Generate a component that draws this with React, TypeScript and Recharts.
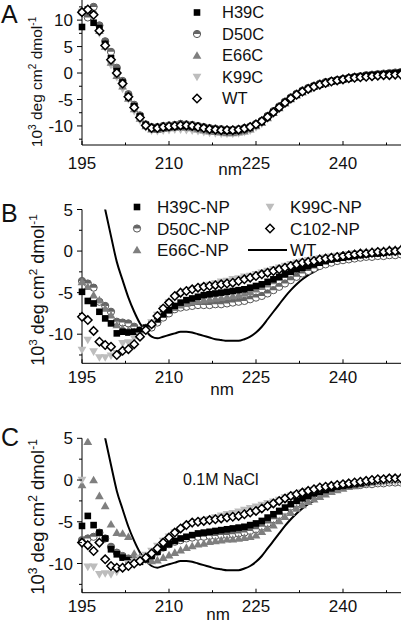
import React from 'react';
import { ComposedChart, Line, XAxis, YAxis } from 'recharts';

const FONT = '"Liberation Sans", Arial, Helvetica, sans-serif';

// wavelength (nm), one point per nm
const wavelengths = [
  195, 196, 197, 198, 199, 200, 201, 202, 203, 204,
  205, 206, 207, 208, 209, 210, 211, 212, 213, 214,
  215, 216, 217, 218, 219, 220, 221, 222, 223, 224,
  225, 226, 227, 228, 229, 230, 231, 232, 233, 234,
  235, 236, 237, 238, 239, 240, 241, 242, 243, 244,
  245, 246, 247, 248, 249, 250,
];

const xTicks = [195, 202.5, 210, 217.5, 225, 232.5, 240, 247.5];
const yTicksA = [-12.5, -10, -7.5, -5, -2.5, 0, 2.5, 5, 7.5, 10, 12.5];
const yTicksBC = [-12.5, -10, -7.5, -5, -2.5, 0, 2.5, 5];

// panel A - free proteins
const aH39 = [
  8.7, 12, 9.5, 8.5, 5.5, 2.8, 0.4, -1.8, -4.5, -6.3,
  -8.2, -9.8, -10.4, -10.4, -10.3, -10.2, -10.1, -10.0, -10.0, -10.1,
  -10.2, -10.4, -10.6, -10.7, -10.8, -10.9, -10.9, -10.8, -10.6, -10.3,
  -9.8, -9.2, -8.3, -7.4, -6.5, -5.6, -4.8, -4.1, -3.5, -3.0,
  -2.5, -2.2, -1.9, -1.6, -1.4, -1.2, -1.0, -0.8, -0.7, -0.5,
  -0.4, -0.3, -0.2, -0.1, 0, 0.1,
];
const aD50 = [
  11.5, 10.5, 12.5, 9, 6, 4, 1, -1.5, -4, -6,
  -8, -9.7, -10.2, -10.2, -10.0, -9.9, -9.8, -9.6, -9.7, -9.8,
  -10.0, -10.2, -10.4, -10.5, -10.6, -10.7, -10.7, -10.6, -10.4, -10.1,
  -9.6, -9.0, -8.1, -7.2, -6.3, -5.4, -4.6, -3.9, -3.3, -2.8,
  -2.4, -2.0, -1.7, -1.5, -1.3, -1.1, -0.9, -0.7, -0.6, -0.4,
  -0.3, -0.2, -0.1, 0, 0.1, 0.2,
];
const aE66 = [
  11.8, 11.5, 11.8, 8, 5, 2, -0.5, -2.5, -4.8, -6.8,
  -8.6, -10.0, -10.6, -10.7, -10.5, -10.4, -10.3, -10.2, -10.3, -10.4,
  -10.6, -10.8, -11.0, -11.1, -11.2, -11.3, -11.3, -11.2, -11.0, -10.6,
  -10.0, -9.4, -8.5, -7.5, -6.6, -5.7, -4.9, -4.2, -3.6, -3.0,
  -2.6, -2.2, -1.9, -1.6, -1.4, -1.2, -1.0, -0.8, -0.6, -0.5,
  -0.4, -0.3, -0.2, -0.1, 0, 0,
];
const aK99 = [
  11.5, 11.2, 12, 7.5, 4.8, 1.5, -0.8, -3, -5, -7.2,
  -9, -10.3, -10.9, -11.0, -10.9, -10.8, -10.7, -10.7, -10.8, -10.9,
  -11.0, -11.2, -11.3, -11.4, -11.5, -11.5, -11.5, -11.4, -11.2, -10.9,
  -10.3, -9.6, -8.7, -7.7, -6.8, -5.8, -5.0, -4.3, -3.7, -3.1,
  -2.7, -2.3, -2.0, -1.7, -1.5, -1.3, -1.1, -0.9, -0.7, -0.6,
  -0.5, -0.4, -0.3, -0.2, -0.1, 0,
];
const aWT = [
  11.5, 12, 11, 8, 5.2, 2.5, 0, -2, -4.5, -6.5,
  -8.4, -9.9, -10.4, -10.4, -10.2, -10.1, -10.0, -9.9, -9.9, -10.0,
  -10.2, -10.4, -10.6, -10.7, -10.8, -10.8, -10.8, -10.7, -10.5, -10.2,
  -9.7, -9.1, -8.3, -7.4, -6.5, -5.6, -4.8, -4.1, -3.5, -3.0,
  -2.6, -2.2, -1.9, -1.6, -1.4, -1.2, -1.0, -0.9, -0.8, -0.7,
  -0.6, -0.5, -0.4, -0.4, -0.3, -0.3,
];

// WT reference line used in panels B and C
const wtLine = [
  9, 12, 12, 8.3, 5, 1.8, -1.3, -3.5, -5.6, -7.3,
  -8.7, -9.6, -10.3, -10.5, -10.3, -10.1, -9.9, -9.7, -9.7, -9.8,
  -10.0, -10.2, -10.4, -10.6, -10.7, -10.8, -10.8, -10.8, -10.6, -10.3,
  -9.8, -9.1, -8.2, -7.3, -6.4, -5.5, -4.7, -4.0, -3.4, -2.9,
  -2.5, -2.1, -1.8, -1.5, -1.3, -1.1, -0.9, -0.8, -0.6, -0.5,
  -0.4, -0.3, -0.2, -0.2, -0.1, -0.1,
];

// panel B - nanoparticle conjugates
const bH39 = [
  -4.9, -6.0, -6.3, -7.3, -8.1, -8.7, -9.9, -9.7, -9.8, -9.7,
  -9.5, -9.2, -8.7, -8.2, -7.6, -7.1, -6.6, -6.2, -5.9, -5.7,
  -5.5, -5.3, -5.2, -5.1, -5.0, -4.9, -4.8, -4.7, -4.6, -4.4,
  -4.2, -4.0, -3.7, -3.4, -3.1, -2.8, -2.5, -2.2, -2.0, -1.8,
  -1.6, -1.4, -1.2, -1.0, -0.9, -0.8, -0.7, -0.6, -0.5, -0.4,
  -0.3, -0.3, -0.2, -0.1, 0, 0,
];
const bD50 = [
  -3.6, -3.9, -4.4, -6.1, -6.6, -7.3, -8.5, -8.6, -8.7, -9.1,
  -9.6, -9.5, -9.2, -8.6, -8.0, -7.5, -7.0, -6.8, -6.7, -6.6,
  -6.5, -6.5, -6.5, -6.4, -6.4, -6.3, -6.2, -6.1, -6.0, -5.8,
  -5.6, -5.4, -5.1, -4.7, -4.3, -3.9, -3.5, -3.1, -2.7, -2.4,
  -2.1, -1.8, -1.6, -1.4, -1.2, -1.1, -1.0, -0.9, -0.8, -0.7,
  -0.7, -0.6, -0.6, -0.5, -0.5, -0.4,
];
const bE66 = [
  -3.7, -4.3, -5.3, -5.9, -6.9, -7.7, -8.9, -9.3, -9.5, -9.7,
  -9.5, -9.2, -8.8, -8.2, -7.6, -7.1, -6.8, -6.5, -6.3, -6.1,
  -6.0, -5.9, -5.8, -5.7, -5.6, -5.5, -5.4, -5.3, -5.1, -4.9,
  -4.6, -4.3, -4.0, -3.6, -3.2, -2.8, -2.4, -2.1, -1.8, -1.5,
  -1.3, -1.1, -0.9, -0.7, -0.6, -0.5, -0.4, -0.3, -0.2, -0.1,
  0, 0, 0.1, 0.2, 0.2, 0.3,
];
const bK99 = [
  -11.9, -10.7, -12.1, -12.8, -12.8, -12.6, -12.3, -11.1, -11.0, -10.5,
  -10.2, -9.5, -8.6, -7.7, -6.9, -6.2, -5.6, -5.2, -4.9, -4.7,
  -4.5, -4.3, -4.1, -3.9, -3.7, -3.6, -3.4, -3.3, -3.1, -3.0,
  -2.8, -2.6, -2.4, -2.2, -2.0, -1.8, -1.6, -1.4, -1.3, -1.1,
  -1.0, -0.9, -0.8, -0.7, -0.6, -0.5, -0.4, -0.3, -0.3, -0.2,
  -0.2, -0.1, -0.1, 0, 0, 0.1,
];
const bC102 = [
  -7.9, -8.3, -9.6, -10.9, -11.3, -11.5, -12.5, -12.0, -11.8, -11.2,
  -10.3, -9.5, -8.8, -7.8, -6.9, -6.2, -5.4, -5.0, -4.8, -4.6,
  -4.4, -4.3, -4.2, -4.1, -4.0, -3.9, -3.8, -3.6, -3.4, -3.2,
  -3.0, -2.8, -2.6, -2.4, -2.2, -2.0, -1.8, -1.6, -1.4, -1.3,
  -1.2, -1.0, -0.9, -0.8, -0.7, -0.6, -0.5, -0.4, -0.3, -0.3,
  -0.2, -0.1, -0.1, 0, 0, 0.1,
];

// panel C - conjugates in 0.1M NaCl
const cH39 = [
  -5.5, -4.3, -5.4, -6.3, -7.0, -8.3, -8.9, -9.3, -9.6, -9.8,
  -9.8, -9.5, -9.1, -8.6, -8.1, -7.7, -7.3, -7.0, -6.8, -6.6,
  -6.4, -6.3, -6.2, -6.1, -6.0, -5.9, -5.8, -5.7, -5.6, -5.4,
  -5.2, -4.9, -4.5, -4.1, -3.7, -3.3, -2.9, -2.5, -2.2, -1.9,
  -1.6, -1.4, -1.2, -1.0, -0.8, -0.7, -0.6, -0.5, -0.4, -0.3,
  -0.2, -0.1, 0, 0, 0.1, 0.1,
];
const cD50 = [
  -7.2, -7.0, -6.8, -6.3, -7.0, -8.0, -8.7, -9.1, -9.4, -9.6,
  -9.7, -9.5, -9.1, -8.6, -8.1, -7.7, -7.4, -7.2, -7.0, -6.9,
  -6.8, -6.8, -6.7, -6.7, -6.6, -6.6, -6.5, -6.4, -6.3, -6.1,
  -5.9, -5.6, -5.2, -4.7, -4.2, -3.7, -3.2, -2.8, -2.4, -2.0,
  -1.7, -1.5, -1.3, -1.1, -0.9, -0.8, -0.7, -0.6, -0.6, -0.5,
  -0.5, -0.4, -0.4, -0.3, -0.3, -0.3,
];
const cE66 = [
  -0.6, 4.6, 0, -1.9, -3.1, -5.3, -6.3, -6.4, -6.8, -8.8,
  -9.2, -9.5, -9.7, -9.6, -9.3, -9.0, -8.7, -8.4, -8.1, -7.9,
  -7.7, -7.6, -7.4, -7.3, -7.2, -7.1, -7.1, -7.0, -6.9, -6.8,
  -6.6, -6.2, -5.8, -5.4, -4.9, -4.4, -3.9, -3.4, -3.0, -2.6,
  -2.3, -2.0, -1.7, -1.4, -1.2, -1.0, -0.8, -0.7, -0.5, -0.4,
  -0.3, -0.2, -0.1, 0, 0.1, 0.1,
];
const cK99 = [
  0, -10.4, -10.4, -11.3, -11.2, -11.3, -11.0, -10.6, -10.0, -9.7,
  -9.4, -9.0, -8.5, -7.9, -7.3, -6.8, -6.3, -5.9, -5.6, -5.3,
  -5.1, -4.9, -4.7, -4.5, -4.3, -4.1, -4.0, -3.8, -3.6, -3.4,
  -3.2, -3.0, -2.8, -2.6, -2.4, -2.1, -1.9, -1.7, -1.5, -1.3,
  -1.2, -1.0, -0.9, -0.8, -0.7, -0.6, -0.5, -0.5, -0.4, -0.4,
  -0.3, -0.3, -0.3, -0.2, -0.2, -0.2,
];
const cC102 = [
  -7.5, -7.8, -8.5, -7.5, -9.5, -10.3, -10.5, -10.5, -10.3, -10.0,
  -9.7, -9.3, -8.8, -8.2, -7.5, -6.9, -6.3, -5.8, -5.4, -5.1,
  -5.0, -4.9, -4.8, -4.7, -4.6, -4.5, -4.4, -4.3, -4.1, -3.9,
  -3.7, -3.4, -3.1, -2.8, -2.5, -2.2, -1.9, -1.7, -1.5, -1.3,
  -1.1, -0.9, -0.8, -0.7, -0.6, -0.5, -0.4, -0.3, -0.2, -0.1,
  0, 0.1, 0.1, 0.2, 0.2, 0.2,
];

const rowsA = wavelengths.map((nm, i) => ({
  nm, h39: aH39[i], d50: aD50[i], e66: aE66[i], k99: aK99[i], wt: aWT[i],
}));
const rowsB = wavelengths.map((nm, i) => ({
  nm, h39: bH39[i], d50: bD50[i], e66: bE66[i], k99: bK99[i], c102: bC102[i], wt: wtLine[i],
}));
const rowsC = wavelengths.map((nm, i) => ({
  nm, h39: cH39[i], d50: cD50[i], e66: cE66[i], k99: cK99[i], c102: cC102[i], wt: wtLine[i],
}));

const Marker = ({ kind, cx, cy }: any) => {
  if (cx == null || cy == null) return null;
  switch (kind) {
    case 'square':
      return <rect x={cx - 3.3} y={cy - 3.3} width={6.6} height={6.6} fill='#000' />;
    case 'half':
      return (
        <g>
          <circle cx={cx} cy={cy} r={3.6} fill='#fff' stroke='#555' strokeWidth={1} />
          <path d={`M${cx - 3.6},${cy} A3.6,3.6 0 0 1 ${cx + 3.6},${cy} Z`} fill='#666' />
        </g>
      );
    case 'up':
      return <polygon points={`${cx},${cy - 4.3} ${cx - 4.4},${cy + 3.3} ${cx + 4.4},${cy + 3.3}`} fill='#7f7f7f' />;
    case 'down':
      return <polygon points={`${cx},${cy + 4.3} ${cx - 4.4},${cy - 3.3} ${cx + 4.4},${cy - 3.3}`} fill='#bdbdbd' />;
    default:
      return (
        <polygon
          points={`${cx},${cy - 4.2} ${cx + 4.2},${cy} ${cx},${cy + 4.2} ${cx - 4.2},${cy}`}
          fill='#fff'
          stroke='#000'
          strokeWidth={1.5}
        />
      );
  }
};

const XTick = (props: any) => {
  const { x, y, payload, gap } = props;
  const major = payload.value % 15 === 0;
  return (
    <g>
      <line x1={x} x2={x} y1={y} y2={y - (major ? 4 : 2.5)} stroke='#000' />
      {major && (
        <text x={x} y={y + gap} textAnchor='middle' fontSize={17} fontFamily={FONT} fill='#111'>
          {payload.value}
        </text>
      )}
    </g>
  );
};

const YTick = (props: any) => {
  const { x, y, payload } = props;
  const major = Math.abs(payload.value % 5) < 1e-6;
  return (
    <g>
      <line x1={x} x2={x - (major ? 5 : 3)} y1={y} y2={y} stroke='#000' />
      {major && (
        <text x={x - 9} y={y} dy='0.36em' textAnchor='end' fontSize={17} fontFamily={FONT} fill='#111'>
          {payload.value}
        </text>
      )}
    </g>
  );
};

interface Series {
  key: string;
  kind: string;
}

interface PanelProps {
  top: number;
  height: number;
  marginTop: number;
  xAxisHeight: number;
  labelGap: number;
  domain: number[];
  yTicks: number[];
  rows: any[];
  series: Series[];
  withLine?: boolean;
}

const Panel = (props: PanelProps) => {
  const { top, height, marginTop, xAxisHeight, labelGap, domain, yTicks, rows, series, withLine } = props;
  return (
    <div style={{ position: 'absolute', left: 0, top }}>
      <ComposedChart
        width={401}
        height={height}
        data={rows}
        margin={{ top: marginTop, right: 0, bottom: 0, left: 0 }}
      >
        <XAxis
          type='number'
          dataKey='nm'
          domain={[195, 250]}
          ticks={xTicks}
          interval={0}
          height={xAxisHeight}
          tickLine={false}
          tickSize={0}
          tickMargin={0}
          axisLine={{ stroke: '#000' }}
          tick={<XTick gap={labelGap} />}
        />
        <YAxis
          type='number'
          domain={domain}
          ticks={yTicks}
          interval={0}
          width={82}
          allowDataOverflow={withLine}
          tickLine={false}
          tickSize={0}
          tickMargin={0}
          axisLine={{ stroke: '#000' }}
          tick={<YTick />}
        />
        {series.map((s) => (
          <Line
            key={s.key}
            dataKey={s.key}
            stroke='none'
            isAnimationActive={false}
            activeDot={false}
            dot={(p: any) => <Marker key={`${s.key}-${p.index}`} kind={s.kind} cx={p.cx} cy={p.cy} />}
          />
        ))}
        {withLine && (
          <Line
            dataKey='wt'
            type='monotone'
            stroke='#000'
            strokeWidth={2}
            dot={false}
            activeDot={false}
            isAnimationActive={false}
          />
        )}
      </ComposedChart>
    </div>
  );
};

const seriesA: Series[] = [
  { key: 'k99', kind: 'down' },
  { key: 'e66', kind: 'up' },
  { key: 'd50', kind: 'half' },
  { key: 'h39', kind: 'square' },
  { key: 'wt', kind: 'diamond' },
];
const seriesBC: Series[] = [
  { key: 'd50', kind: 'half' },
  { key: 'e66', kind: 'up' },
  { key: 'h39', kind: 'square' },
  { key: 'k99', kind: 'down' },
  { key: 'c102', kind: 'diamond' },
];

const legendA = [
  { name: 'H39C', kind: 'square' },
  { name: 'D50C', kind: 'half' },
  { name: 'E66C', kind: 'up' },
  { name: 'K99C', kind: 'down' },
  { name: 'WT', kind: 'diamond' },
];
const legendB1 = [
  { name: 'H39C-NP', kind: 'square' },
  { name: 'D50C-NP', kind: 'half' },
  { name: 'E66C-NP', kind: 'up' },
];
const legendB2 = [
  { name: 'K99C-NP', kind: 'down' },
  { name: 'C102-NP', kind: 'diamond' },
];

const YTitle = ({ x, y, size }: any) => (
  <text
    x={x}
    y={y}
    transform={`rotate(-90 ${x} ${y})`}
    textAnchor='middle'
    fontSize={size}
    fontFamily={FONT}
    fill='#111'
  >
    10<tspan dy={-size * 0.4} fontSize={size * 0.65}>3</tspan>
    <tspan dy={size * 0.4}> deg cm</tspan>
    <tspan dy={-size * 0.4} fontSize={size * 0.65}>2</tspan>
    <tspan dy={size * 0.4}> dmol</tspan>
    <tspan dy={-size * 0.4} fontSize={size * 0.65}>-1</tspan>
  </text>
);

const txt = { fontFamily: FONT, fill: '#111' };

const Overlay = () => (
  <svg
    width={401}
    height={627}
    style={{ position: 'absolute', left: 0, top: 0, pointerEvents: 'none' }}
  >
    <text x={1} y={23} fontSize={25} {...txt}>A</text>
    <text x={1} y={222} fontSize={25} {...txt}>B</text>
    <text x={1} y={446} fontSize={25} {...txt}>C</text>

    <YTitle x={42} y={82} size={15.5} />
    <YTitle x={44} y={290} size={18} />
    <YTitle x={44} y={517} size={18.5} />

    <text x={230} y={175} textAnchor='middle' fontSize={17} {...txt}>nm</text>
    <text x={222} y={395} textAnchor='middle' fontSize={17} {...txt}>nm</text>
    <text x={218} y={620} textAnchor='middle' fontSize={17} {...txt}>nm</text>

    {legendA.map((l, i) => {
      const cy = 12.5 + i * 21.5;
      return (
        <g key={l.name}>
          <Marker kind={l.kind} cx={197} cy={cy} />
          <text x={222} y={cy} dy='0.36em' fontSize={16.5} {...txt}>{l.name}</text>
        </g>
      );
    })}

    {legendB1.map((l, i) => {
      const cy = 207 + i * 21.5;
      return (
        <g key={l.name}>
          <Marker kind={l.kind} cx={137} cy={cy} />
          <text x={157} y={cy} dy='0.36em' fontSize={17} {...txt}>{l.name}</text>
        </g>
      );
    })}
    {legendB2.map((l, i) => {
      const cy = 207 + i * 21.5;
      return (
        <g key={l.name}>
          <Marker kind={l.kind} cx={270} cy={cy} />
          <text x={290} y={cy} dy='0.36em' fontSize={17} {...txt}>{l.name}</text>
        </g>
      );
    })}
    <line x1={248} x2={287} y1={250} y2={250} stroke='#000' strokeWidth={2} />
    <text x={290} y={250} dy='0.36em' fontSize={17} {...txt}>WT</text>

    <text x={183} y={485} fontSize={16} {...txt}>0.1M NaCl</text>
  </svg>
);

const App = () => (
  <div style={{ position: 'absolute', left: 0, top: 0, width: 401, height: 627, background: '#fff' }}>
    <Panel
      top={0}
      height={180}
      marginTop={0}
      xAxisHeight={35}
      labelGap={24}
      domain={[-13.6, 13.8]}
      yTicks={yTicksA}
      rows={rowsA}
      series={seriesA}
    />
    <Panel
      top={180}
      height={220}
      marginTop={29.5}
      xAxisHeight={36.7}
      labelGap={20}
      domain={[-13.5, 5]}
      yTicks={yTicksBC}
      rows={rowsB}
      series={seriesBC}
      withLine
    />
    <Panel
      top={410}
      height={217}
      marginTop={28.3}
      xAxisHeight={34.3}
      labelGap={19}
      domain={[-13.5, 5]}
      yTicks={yTicksBC}
      rows={rowsC}
      series={seriesBC}
      withLine
    />
    <Overlay />
  </div>
);

export default App;
